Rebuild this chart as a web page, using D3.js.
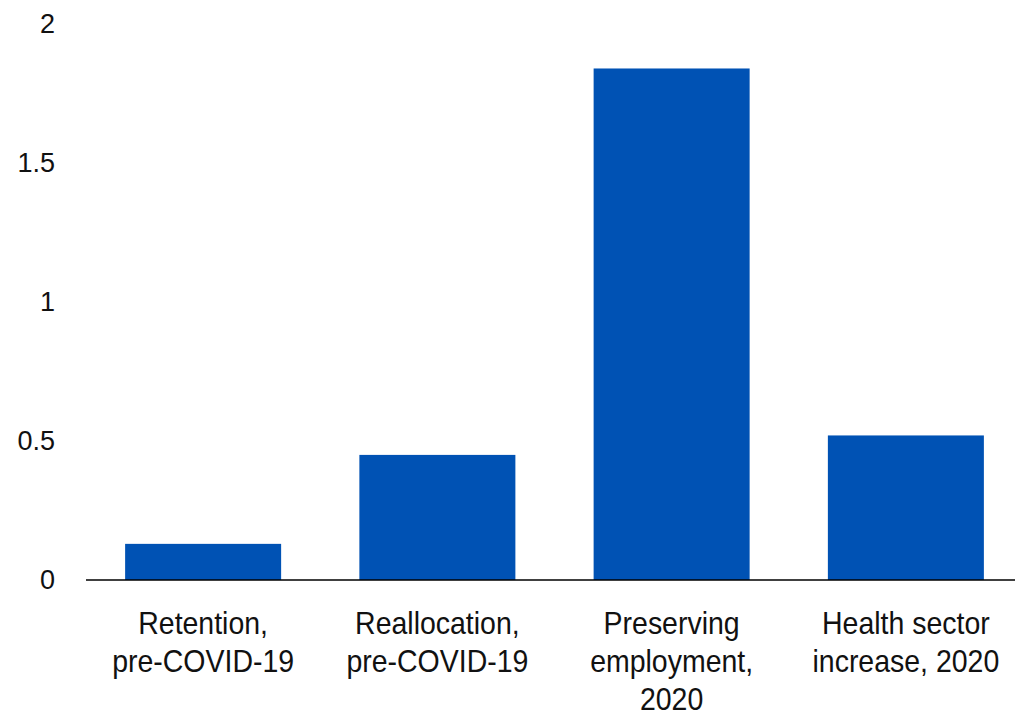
<!DOCTYPE html>
<html>
<head>
<meta charset="utf-8">
<script src="https://cdn.jsdelivr.net/npm/d3@7"></script>
<style>
  html, body { margin: 0; padding: 0; background: #ffffff; }
  svg { display: block; font-family: "Liberation Sans", Arial, sans-serif; }
</style>
</head>
<body>
<svg id="chart" width="1015" height="717"></svg>
<script>
// Category labels (each entry holds the wrapped lines of one label)
const categories = [
  ["Retention,", "pre-COVID-19"],
  ["Reallocation,", "pre-COVID-19"],
  ["Preserving", "employment,", "2020"],
  ["Health sector", "increase, 2020"]
];
const values = [0.13, 0.45, 1.84, 0.52];
const yTicks = [0, 0.5, 1, 1.5, 2];
const yTickLabels = ["0", "0.5", "1", "1.5", "2"];

const svg = d3.select("#chart");
const W = 1015;

const x = d3.scaleBand()
  .domain(d3.range(categories.length))
  .range([86, 1023])
  .paddingInner(0.334)
  .paddingOuter(0.167);

const y = d3.scaleLinear()
  .domain([0, 2])
  .range([580, 24]);

// Bars
svg.append("g")
  .selectAll("rect")
  .data(values)
  .join("rect")
  .attr("x", (d, i) => x(i))
  .attr("width", x.bandwidth())
  .attr("y", d => y(d))
  .attr("height", d => y(0) - y(d))
  .attr("fill", "#0052b4");

// Y axis labels (no axis line, no tick marks)
const yAxis = d3.axisLeft(y)
  .tickValues(yTicks)
  .tickFormat((d, i) => yTickLabels[i])
  .tickSize(0)
  .tickPadding(0);

const gy = svg.append("g")
  .attr("transform", "translate(55,0)")
  .call(yAxis);
gy.select(".domain").remove();
gy.selectAll("text")
  .attr("font-size", 27)
  .attr("font-family", "Liberation Sans, Arial, sans-serif")
  .attr("fill", "#111");

// Baseline at zero
svg.append("line")
  .attr("x1", 86)
  .attr("x2", W)
  .attr("y1", y(0))
  .attr("y2", y(0))
  .attr("stroke", "#000")
  .attr("stroke-width", 1.5);

// Category labels, multi-line, centred under each bar (slightly condensed type)
const labels = svg.append("g")
  .selectAll("text")
  .data(categories)
  .join("text")
  .attr("text-anchor", "middle")
  .attr("font-size", 32)
  .attr("fill", "#111")
  .attr("transform", (d, i) => `translate(${x(i) + x.bandwidth() / 2},634) scale(0.89,1)`);

labels.selectAll("tspan")
  .data(d => d)
  .join("tspan")
  .attr("x", 0)
  .attr("dy", (d, j) => j === 0 ? 0 : 38)
  .text(d => d);
</script>
</body>
</html>
